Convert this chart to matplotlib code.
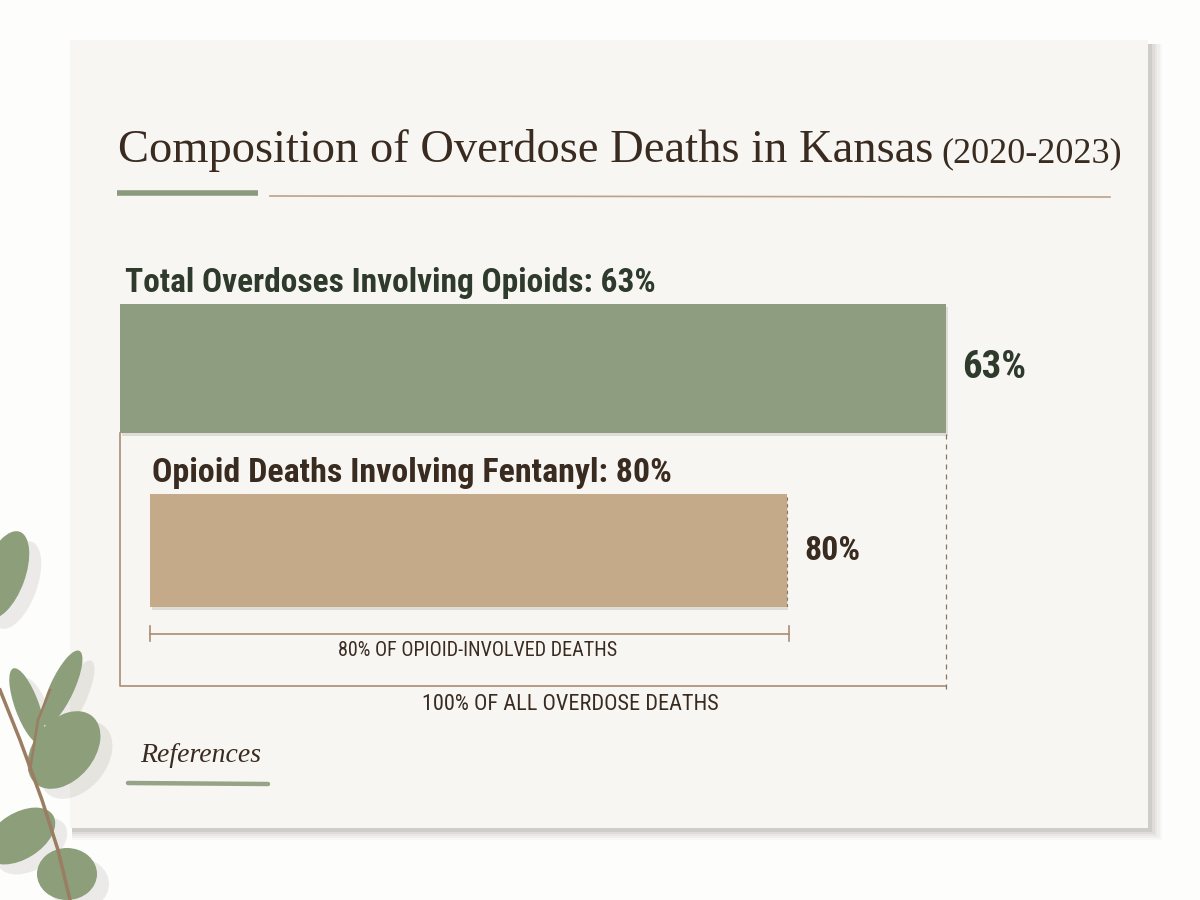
import numpy as np
import matplotlib.pyplot as plt
from matplotlib import font_manager
from matplotlib.patches import Rectangle, Ellipse

# данные
categories = ["Total Overdoses Involving Opioids", "Opioid Deaths Involving Fentanyl"]
shares = [63, 80]
base_share = 100
bracket_labels = ["100% OF ALL OVERDOSE DEATHS", "80% OF OPIOID-INVOLVED DEATHS"]
title = "Composition of Overdose Deaths in Kansas"
years = "(2020-2023)"

green = "#8e9c80"
tan = "#c4aa88"
line_col = "#a98d74"
dark_green = "#2e3a2b"
dark_brown = "#3a2b21"

# узкий шрифт, если есть
names = {f.name for f in font_manager.fontManager.ttflist}
cond_stretch = "normal"
if "Roboto Condensed" in names:
    cond = "Roboto Condensed"
elif any(f.name == "DejaVu Sans" and f.stretch == "condensed" for f in font_manager.fontManager.ttflist):
    cond = "DejaVu Sans"
    cond_stretch = "condensed"
else:
    cond = "Liberation Sans"
lab_kw = dict(family=[cond, "DejaVu Sans"], stretch=cond_stretch)
k = 1.0 if cond != "Liberation Sans" else 0.8

W, H = 1200, 900
fig = plt.figure(figsize=(12, 9), dpi=100)
fig.patch.set_facecolor("#fdfdfc")

def box(x0, y0, x1, y1):
    # пиксели -> доли фигуры
    return [x0 / W, 1 - y1 / H, (x1 - x0) / W, (y1 - y0) / H]

# фон: карточка с тенью
bg = fig.add_axes([0, 0, 1, 1])
bg.set_xlim(0, W)
bg.set_ylim(H, 0)
bg.axis("off")
for i, a in enumerate([0.04, 0.05, 0.06, 0.08, 0.12]):
    d = 12 - i * 2.5
    bg.add_patch(Rectangle((72, 44), 1078 + d, 786 + d * 0.8,
                           color="#6f675d", alpha=a, lw=0))
bg.add_patch(Rectangle((70, 40), 1078, 788, color="#f7f6f2", lw=0))

# листья эвкалипта
bg.plot([0, 20, 42, 58, 70], [690, 740, 800, 850, 900], color="#9b7d62", lw=2.5)
bg.plot([30, 38, 50], [770, 720, 690], color="#9b7d62", lw=1.8)
leaves = [((4, 575), 42, 92, 20), ((27, 706), 24, 80, -20), ((62, 688), 24, 82, 25),
          ((64, 750), 60, 88, 40), ((20, 836), 78, 46, -32), ((67, 874), 60, 52, 0)]
for (cx, cy), w, h, ang in leaves:
    bg.add_patch(Ellipse((cx + 12, cy + 10), w, h, angle=ang, color="#888078", alpha=0.15, lw=0))
    bg.add_patch(Ellipse((cx, cy), w, h, angle=ang, color="#8c9e7a", lw=0))

# заголовок
t = bg.text(118, 162, title, fontsize=33.5, family="Liberation Serif", color=dark_brown, va="baseline")
fig.canvas.draw()
bb = t.get_window_extent()
bg.text(bb.x1 + 8, 162, years, fontsize=26, family="Liberation Serif", color=dark_brown, va="baseline")
bg.plot([117, 258], [193, 193], color="#8a9a7c", lw=4, solid_capstyle="butt")
bg.plot([270, 1110], [196, 197], color="#bba28a", lw=1.2)

# зелёная полоса
ax1 = fig.add_axes(box(120, 304, 946, 433))
ax1.set_xlim(0, base_share)
ax1.set_ylim(0, 1)
ax1.axis("off")
ax1.barh(0.48, base_share, height=1, color="#6f6a5c", alpha=0.18, left=0.2, zorder=1, clip_on=False)
ax1.barh(0.5, base_share, height=1, color=green, zorder=2)

# рыжая полоса
ax2 = fig.add_axes(box(150, 494, 946, 607))
ax2.set_xlim(0, base_share)
ax2.set_ylim(0, 1)
ax2.axis("off")
ax2.barh(0.475, shares[1], height=1, color="#6f6a5c", alpha=0.18, left=0.2, zorder=1, clip_on=False)
ax2.barh(0.5, shares[1], height=1, color=tan, zorder=2)
ax2.plot([shares[1], shares[1]], [0, 1], color="#8a7560", lw=0.8, ls=(0, (3, 3)), zorder=3)

bg.text(125, 292, f"{categories[0]}: {shares[0]}%", fontsize=24 * k, weight="bold",
        color=dark_green, va="baseline", **lab_kw)
bg.text(962, 368, f"{shares[0]}%", fontsize=28 * k, weight="bold",
        color=dark_green, va="center", **lab_kw)
bg.text(152, 482, f"{categories[1]}: {shares[1]}%", fontsize=24.5 * k, weight="bold",
        color=dark_brown, va="baseline", **lab_kw)
bg.text(804, 551, f"{shares[1]}%", fontsize=24.5 * k, weight="semibold",
        color=dark_brown, va="center", **lab_kw)

# скобки
bg.plot([120, 120, 946], [433, 686, 686], color=line_col, lw=1.2)
bg.plot([946, 946], [434, 690], color="#8a7560", lw=0.9, ls=(0, (4, 4)))
bg.plot([150, 789], [634, 634], color=line_col, lw=1.2)
bg.plot([150, 150], [626, 641], color=line_col, lw=1.2)
bg.plot([789, 789], [626, 641], color=line_col, lw=1.2)
bg.text(478, 651, bracket_labels[1], fontsize=14.5 * k, weight="normal", color=dark_brown,
        ha="center", va="center", **lab_kw)
bg.text(570, 704, bracket_labels[0], fontsize=16 * k, weight="normal", color=dark_brown,
        ha="center", va="center", **lab_kw)

# References
bg.text(140, 756, "References", fontsize=20, style="italic", family="Liberation Serif",
        color=dark_brown, va="center")
bg.plot([128, 268], [783, 784], color="#8a9a7c", lw=3.2, alpha=0.9, solid_capstyle="round")

fig.savefig("out.png", dpi=100, facecolor=fig.get_facecolor())
